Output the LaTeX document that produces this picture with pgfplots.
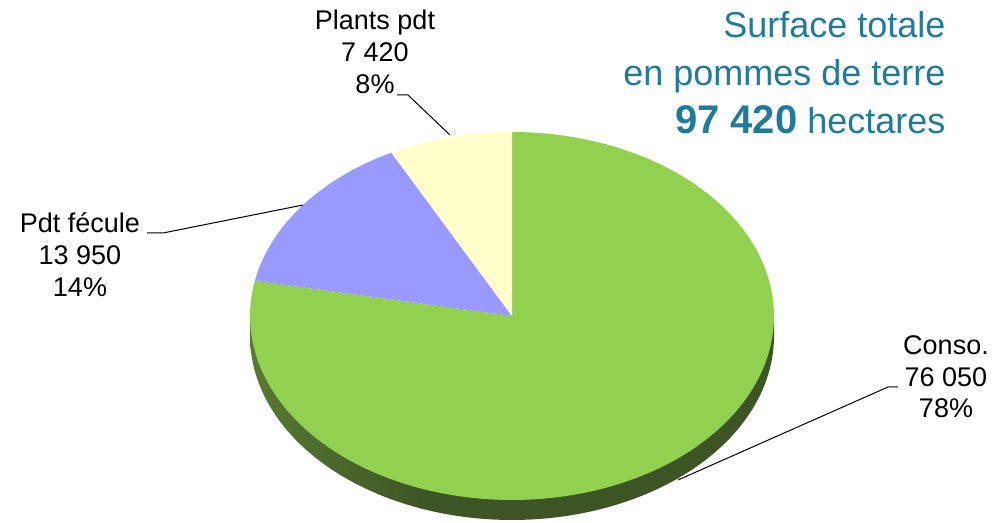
\documentclass[border=0pt]{standalone}
\usepackage{fontspec}
\setmainfont{Liberation Sans}
\usepackage{pgfplots}
\usepackage{pgfplotstable}
\pgfplotsset{compat=1.18}
\definecolor{cgreen}{RGB}{146,208,80}
\definecolor{cblue}{RGB}{153,153,255}
\definecolor{cyellow}{RGB}{255,255,204}
\definecolor{sideL}{RGB}{125,178,75}
\definecolor{sideD}{RGB}{61,84,36}
\definecolor{titlecol}{RGB}{31,122,155}
\pgfdeclarehorizontalshading{pieside}{100bp}{color(0bp)=(sideL); color(42bp)=(sideD); color(100bp)=(sideD)}

\pgfplotstableread{
name value
Conso 76050
Fecule 13950
Plants 7420
}\piedata

\begin{document}
\pgfplotstablegetelem{0}{value}\of\piedata\edef\vA{\pgfplotsretval}%
\pgfplotstablegetelem{1}{value}\of\piedata\edef\vB{\pgfplotsretval}%
\pgfplotstablegetelem{2}{value}\of\piedata\edef\vC{\pgfplotsretval}%
\edef\tot{\fpeval{\vA+\vB+\vC}}%
\edef\aA{\fpeval{round(90-360*\vA/\tot,3)}}%
\edef\aB{\fpeval{round(\aA-360*\vB/\tot,3)}}%
\edef\aC{\fpeval{round(\aB-360*\vC/\tot,3)}}%
\begin{tikzpicture}[
  lbl/.style={anchor=base, font=\fontsize{27}{32}\selectfont, text=black},
  ttl/.style={anchor=base east, font=\fontsize{36}{42}\selectfont, text=titlecol}]
\path[use as bounding box] (0pt,0pt) rectangle (1001pt,522pt);
\begin{axis}[at={(0pt,0pt)}, anchor=south west, width=1001pt, height=522pt, scale only axis,
  xmin=0, xmax=1001, ymin=0, ymax=522, hide axis, clip=false]
% side of the pie
\addplot[draw=none, shade, shading=pieside, domain=180:360, samples=120]
  ({512+262*cos(x)},{186+184*sin(x)}) -- (774,206) -- (250,206) -- cycle;
% top faces
\addplot[draw=none, fill=cgreen, domain=\aA:90, samples=200]
  ({512+262*cos(x)},{206+184*sin(x)}) -- (512,206) -- cycle;
\addplot[draw=none, fill=cblue, domain=\aB:\aA, samples=60]
  ({512+262*cos(x)},{206+184*sin(x)}) -- (512,206) -- cycle;
\addplot[draw=none, fill=cyellow, domain=\aC:\aB, samples=40]
  ({512+262*cos(x)},{206+184*sin(x)}) -- (512,206) -- cycle;
% leader lines
\addplot[black, line width=1pt] coordinates {(397,427) (408,427) (450,387)};
\addplot[black, line width=1pt] coordinates {(147,289) (163,289) (303,317)};
\addplot[black, line width=1pt] coordinates {(898,135) (888,135) (678,42)};
% labels
\node[lbl] at (375,492) {Plants pdt};
\node[lbl] at (375,460) {7 420};
\node[lbl] at (375,428) {8\%};
\node[lbl] at (80,289) {Pdt fécule};
\node[lbl] at (80,257) {13 950};
\node[lbl] at (80,225) {14\%};
\node[lbl] at (946,167) {Conso.};
\node[lbl] at (946,135) {76 050};
\node[lbl] at (946,104) {78\%};
% title
\node[ttl] at (949,484) {Surface totale};
\node[ttl] at (949,436) {en pommes de terre};
\node[ttl] at (949,388) {{\bfseries\fontsize{40}{42}\selectfont 97 420} hectares};
\end{axis}
\end{tikzpicture}
\end{document}
